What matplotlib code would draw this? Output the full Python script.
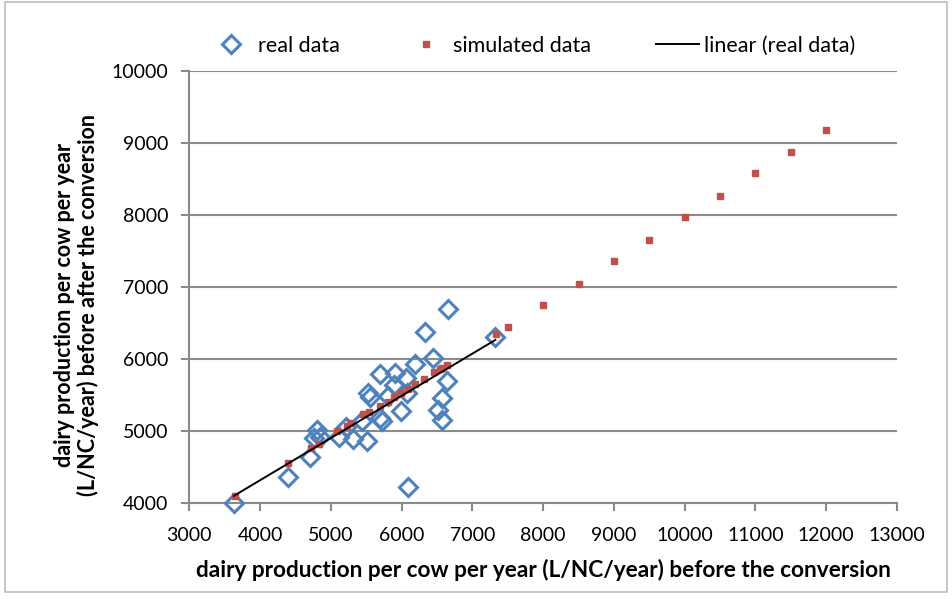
import matplotlib.pyplot as plt
import numpy as np
from matplotlib.patches import Rectangle

# real farms: production before (x) and after (y) the conversion
real_x = [3630, 4390, 4710, 4800, 4765, 4850, 5115, 5220, 5310, 5510, 5440,
          5700, 5720, 5530, 5560, 5700, 5910, 6065, 5900, 6080, 5985, 5815,
          6195, 6450, 6640, 6570, 6520, 6570, 6650, 6335, 7325, 6090]
real_y = [4010, 4360, 4640, 5015, 4900, 4915, 4925, 5060, 4885, 4860, 5135,
          5180, 5145, 5530, 5470, 5790, 5805, 5735, 5640, 5530, 5275, 5490,
          5935, 6010, 5700, 5455, 5295, 5155, 6690, 6370, 6310, 4220]

# simulated values
sim_x = [3645, 4390, 4720, 4830, 5090, 5225, 5265, 5460, 5545, 5690, 5815,
         5895, 5985, 6085, 6195, 6320, 6455, 6540, 6575, 6640, 7340,
         7500, 8000, 8500, 9000, 9500, 10000, 10500, 11000, 11500, 12000]
sim_y = [4100, 4560, 4760, 4825, 5000, 5070, 5115, 5240, 5270, 5350, 5410,
         5470, 5525, 5580, 5650, 5720, 5815, 5860, 5875, 5920, 6345,
         6450, 6750, 7040, 7355, 7650, 7965, 8260, 8575, 8875, 9180]

plt.rcParams['font.family'] = ['Lato', 'DejaVu Sans']
grey = '#8a8a8a'

fig = plt.figure(figsize=(9.52, 5.99), dpi=100)
ax = fig.add_axes([0.1988, 0.1598, 0.7434, 0.7222])

# linear trend of the real data
k, b = np.polyfit(real_x, real_y, 1)
lx = np.array([min(real_x), max(real_x)])

ax.plot(real_x, real_y, linestyle='none', marker='D', markersize=9.5,
        markerfacecolor='none', markeredgecolor='#4f81bd',
        markeredgewidth=2.2, label='real data', zorder=3, clip_on=False)
ax.plot(sim_x, sim_y, linestyle='none', marker='s', markersize=4.2,
        color='#c0504d', label='simulated data', zorder=4, clip_on=False)
ax.plot(lx, k * lx + b, color='black', linewidth=1.4,
        label='linear (real data)', zorder=5)

ax.set_xlim(3000, 13000)
ax.set_ylim(4000, 10000)
ax.set_xticks(np.arange(3000, 13001, 1000))
ax.set_yticks(np.arange(4000, 10001, 1000))
ax.grid(axis='y', color=grey, linewidth=1.5)
ax.set_axisbelow(True)
for s in ['top', 'right']:
    ax.spines[s].set_visible(False)
for s in ['left', 'bottom']:
    ax.spines[s].set_color(grey)
    ax.spines[s].set_linewidth(1.5)
ax.tick_params(axis='both', colors=grey, length=6, width=1.5,
               labelsize=14, labelcolor='black')
ax.tick_params(axis='x', pad=11)
ax.tick_params(axis='y', pad=9)

ax.set_xlabel('dairy production per cow per year (L/NC/year) before the conversion',
              fontsize=16.3, fontweight='bold', labelpad=11)
ax.set_ylabel('dairy production per cow per year\n(L/NC/year) before after the conversion',
              fontsize=15.5, fontweight='bold', linespacing=1.1)
ax.yaxis.set_label_coords(-0.128, 0.458)

ax.legend(loc='lower center', bbox_to_anchor=(0.485, 0.99), ncol=3, frameon=False,
          fontsize=15.5, handlelength=2.0, columnspacing=3.0, handletextpad=0.25)

fig.patches.append(Rectangle((0.005, 0.012), 0.99, 0.985, transform=fig.transFigure,
                             fill=False, edgecolor='#bdbdbd', linewidth=1.2))

fig.savefig('out.png', dpi=100)
